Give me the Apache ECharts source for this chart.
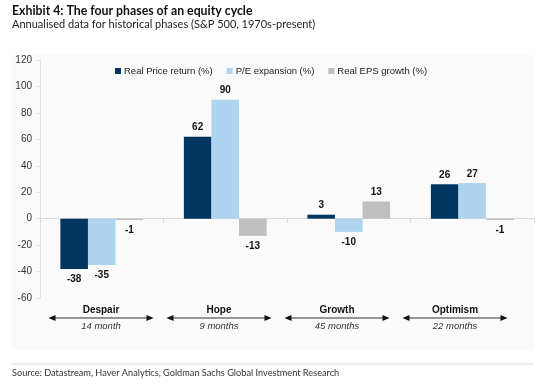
<!DOCTYPE html>
<html>
<head>
<meta charset="utf-8">
<script src="https://cdn.jsdelivr.net/npm/echarts@6/dist/echarts.min.js"></script>
<style>html,body{margin:0;padding:0;background:#fff;}#c{width:540px;height:387px;}</style>
</head>
<body>
<div id="c"></div>
<script>
var categories = ['Despair', 'Hope', 'Growth', 'Optimism'];
var durations = ['14 month', '9 months', '45 months', '22 months'];
var seriesNames = ['Real Price return (%)', 'P/E expansion (%)', 'Real EPS growth (%)'];
var realPriceReturn = [-38, 62, 3, 26];
var peExpansion = [-35, 90, -10, 27];
var realEpsGrowth = [-1, -13, 13, -1];
var yTicks = { min: -60, max: 120, interval: 20 };
var colors = ['#003660', '#aed4f0', '#bfbfbf'];

var chart = echarts.init(document.getElementById('c'), null, { renderer: 'canvas' });
var FONT = 'Liberation Sans, Arial, sans-serif';

function barSeries(name, values, color) {
  return {
    name: name, type: 'bar', xAxisIndex: 0, yAxisIndex: 0,
    barGap: '0%', barCategoryGap: '33%',
    itemStyle: { color: color },
    data: values.map(function (v) {
      return { value: v, label: { position: v < 0 ? 'bottom' : 'top', distance: v < 0 ? 5 : 4 } };
    }),
    label: { show: true, fontFamily: FONT, fontWeight: 'bold', fontSize: 10, color: '#111' }
  };
}

var option = {
  animation: false,
  textStyle: { fontFamily: FONT },
  title: [
    { text: 'Exhibit 4: The four phases of an equity cycle', left: 7, top: 0,
      textStyle: { fontFamily: 'Lato', fontWeight: 'bold', fontSize: 12.3, color: '#111' } },
    { text: 'Annualised data for historical phases (S&P 500, 1970s-present)', left: 7, top: 14,
      textStyle: { fontFamily: 'Lato', fontWeight: 'normal', fontSize: 11, color: '#222' } },
    { text: 'Source: Datastream, Haver Analytics, Goldman Sachs Global Investment Research', left: 7, top: 364,
      textStyle: { fontFamily: 'Lato', fontWeight: 'normal', fontSize: 9.2, color: '#333' } }
  ],
  graphic: [
    { type: 'rect', z: -10, shape: { x: 12, y: 55, width: 521, height: 295 }, style: { fill: '#fafafa' } },
    { type: 'line', shape: { x1: 12, y1: 364, x2: 533, y2: 364 }, style: { stroke: '#d8d8d8', lineWidth: 1 } }
  ],
  legend: {
    top: 61, left: 110, itemWidth: 6, itemHeight: 6, itemGap: 14, icon: 'rect',
    textStyle: { fontFamily: FONT, fontSize: 9.5, color: '#222', padding: [0, 0, 0, -2] },
    data: seriesNames
  },
  grid: [
    { left: 40, right: 6, top: 60, bottom: 89 },
    { left: 42, right: 26, top: 308, height: 20 }
  ],
  xAxis: [
    { type: 'category', gridIndex: 0, data: categories, position: 'bottom',
      axisLine: { onZero: true, lineStyle: { color: '#d9d9d9' } },
      axisTick: { show: true, length: 4, lineStyle: { color: '#d9d9d9' } },
      axisLabel: { show: false } },
    { type: 'category', gridIndex: 1, data: categories, show: false }
  ],
  yAxis: [
    { type: 'value', gridIndex: 0, min: yTicks.min, max: yTicks.max, interval: yTicks.interval,
      axisLine: { show: true, lineStyle: { color: '#e3e3e3' } },
      axisTick: { show: true, length: 4, lineStyle: { color: '#e3e3e3' } },
      splitLine: { show: false },
      axisLabel: { fontFamily: FONT, fontSize: 10, color: '#333', margin: 8 } },
    { type: 'value', gridIndex: 1, min: -1, max: 1, show: false }
  ],
  series: [
    barSeries(seriesNames[0], realPriceReturn, colors[0]),
    barSeries(seriesNames[1], peExpansion, colors[1]),
    barSeries(seriesNames[2], realEpsGrowth, colors[2]),
    {
      type: 'custom', xAxisIndex: 1, yAxisIndex: 1, clip: false, silent: true,
      data: categories.map(function (c, i) { return [i, 0]; }),
      renderItem: function (params, api) {
        var i = api.value(0);
        var p = api.coord([i, 0]);
        var w = api.size([1, 0])[0];
        var half = w * 0.445;
        var x1 = p[0] - half, x2 = p[0] + half, y = p[1];
        return {
          type: 'group',
          children: [
            { type: 'line', shape: { x1: x1 + 4, y1: y, x2: x2 - 4, y2: y }, style: { stroke: '#333', lineWidth: 1 } },
            { type: 'polygon', shape: { points: [[x1, y], [x1 + 7, y - 3], [x1 + 7, y + 3]] }, style: { fill: '#111' } },
            { type: 'polygon', shape: { points: [[x2, y], [x2 - 7, y - 3], [x2 - 7, y + 3]] }, style: { fill: '#111' } },
            { type: 'text', style: { text: categories[i], x: p[0], y: y - 8, align: 'center', verticalAlign: 'middle',
              font: 'bold 10px ' + FONT, fill: '#111' } },
            { type: 'text', style: { text: durations[i], x: p[0], y: y + 8.5, align: 'center', verticalAlign: 'middle',
              font: 'italic 9.5px ' + FONT, fill: '#333' } }
          ]
        };
      }
    }
  ]
};
chart.setOption(option);
</script>
</body>
</html>
